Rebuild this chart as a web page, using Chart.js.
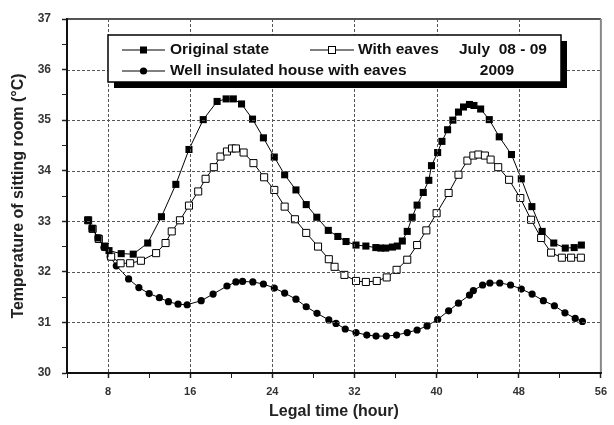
<!DOCTYPE html>
<html lang="en">
<head>
<meta charset="UTF-8" />
<title>Temperature of sitting room</title>
<script src="https://cdn.jsdelivr.net/npm/chart.js@4.4.0/dist/chart.umd.min.js"></script>
<style>
  body { margin: 0; background: #fff; }
</style>
</head>
<body>
<canvas id="myChart" width="614" height="425"></canvas>
<script>
// values (hour of legal time, temperature in degC)
const hoursOriginal = [6.06, 6.45, 7.03, 7.67, 8.09, 9.28, 10.45, 11.86, 13.2, 14.6, 15.88, 17.27, 18.62, 19.5, 20.2, 21.0, 22.07, 23.13, 24.19, 25.2, 26.3, 27.3, 28.33, 29.45, 30.38, 31.18, 32.15, 33.11, 34.08, 34.56, 35.04, 35.69, 36.17, 36.66, 37.14, 37.62, 38.1, 38.7, 39.24, 39.5, 40.1, 40.52, 41.07, 41.58, 42.13, 42.62, 43.2, 43.64, 44.29, 45.13, 46.1, 47.29, 48.25, 49.28, 50.28, 51.41, 52.53, 53.4, 54.1];
const tempOriginal = [33.02, 32.86, 32.67, 32.5, 32.42, 32.36, 32.35, 32.57, 33.09, 33.73, 34.42, 35.01, 35.37, 35.42, 35.42, 35.32, 35.02, 34.65, 34.27, 33.92, 33.62, 33.33, 33.08, 32.82, 32.70, 32.60, 32.53, 32.51, 32.48, 32.47, 32.47, 32.49, 32.51, 32.61, 32.80, 33.08, 33.32, 33.57, 33.81, 34.1, 34.36, 34.58, 34.81, 35.0, 35.16, 35.26, 35.31, 35.29, 35.22, 35.01, 34.67, 34.32, 33.84, 33.29, 32.80, 32.57, 32.47, 32.48, 32.53];

const hoursEaves = [6.06, 6.5, 7.1, 7.7, 8.3, 9.22, 10.15, 11.2, 12.68, 13.6, 14.2, 15.0, 15.88, 16.78, 17.5, 18.3, 18.95, 19.58, 20.07, 20.45, 21.2, 22.16, 23.2, 24.19, 25.2, 26.2, 27.3, 28.45, 29.5, 30.06, 31.02, 32.15, 33.11, 34.17, 35.14, 36.1, 37.14, 38.1, 39.0, 40.0, 41.17, 42.13, 43.0, 43.58, 44.07, 44.7, 45.26, 46.0, 47.06, 48.15, 49.2, 50.18, 51.15, 52.2, 53.1, 54.05];
const tempEaves = [33.02, 32.85, 32.65, 32.5, 32.3, 32.17, 32.17, 32.22, 32.37, 32.57, 32.8, 33.02, 33.31, 33.59, 33.84, 34.07, 34.28, 34.38, 34.44, 34.44, 34.36, 34.15, 33.87, 33.62, 33.29, 33.04, 32.77, 32.5, 32.25, 32.1, 31.94, 31.82, 31.80, 31.82, 31.89, 32.04, 32.24, 32.53, 32.82, 33.16, 33.56, 33.92, 34.2, 34.3, 34.32, 34.3, 34.22, 34.07, 33.82, 33.46, 33.03, 32.67, 32.38, 32.28, 32.28, 32.28];

const hoursInsulated = [6.06, 6.45, 7.03, 7.6, 8.2, 8.8, 10.0, 11.0, 12.0, 13.0, 13.88, 14.82, 15.7, 17.07, 18.23, 19.58, 20.45, 21.1, 22.1, 23.13, 24.19, 25.2, 26.3, 27.3, 28.35, 29.5, 30.2, 31.1, 32.15, 33.2, 34.1, 35.1, 36.1, 37.14, 38.1, 39.07, 40.1, 41.17, 42.13, 43.2, 43.58, 44.48, 45.19, 46.15, 47.2, 48.25, 49.3, 50.4, 51.47, 52.5, 53.5, 54.2];
const tempInsulated = [33.02, 32.86, 32.67, 32.48, 32.3, 32.12, 31.86, 31.69, 31.57, 31.49, 31.41, 31.36, 31.35, 31.43, 31.56, 31.72, 31.80, 31.81, 31.80, 31.76, 31.68, 31.58, 31.46, 31.31, 31.18, 31.05, 30.98, 30.87, 30.80, 30.75, 30.73, 30.73, 30.75, 30.80, 30.85, 30.93, 31.06, 31.23, 31.38, 31.54, 31.63, 31.74, 31.78, 31.78, 31.74, 31.66, 31.56, 31.43, 31.33, 31.19, 31.08, 31.02];

const seriesNames = ['Original state', 'With eaves', 'Well insulated house with eaves'];
const periodText = ['July  08 - 09', '2009'];
const xTickLabels = [8, 16, 24, 32, 40, 48, 56];
const yTickLabels = [30, 31, 32, 33, 34, 35, 36, 37];

function toPoints(xs, ys) {
	return xs.map((x, i) => ({ x: x, y: ys[i] }));
}

const fontFamily = '"Liberation Sans", Arial, sans-serif';

// dotted grid at the labelled values + frame, drawn after the series
const framePlugin = {
	id: 'frame',
	afterDatasetsDraw(chart) {
		const { ctx, chartArea: a, scales } = chart;
		ctx.save();
		ctx.lineWidth = 1;
		ctx.strokeStyle = '#555';
		ctx.setLineDash([3, 2]);
		for (const v of xTickLabels) {
			if (v <= 4 || v >= 56) continue;
			const px = Math.round(scales.x.getPixelForValue(v)) + 0.5;
			ctx.beginPath();
			ctx.moveTo(px, a.top);
			ctx.lineTo(px, a.bottom);
			ctx.stroke();
		}
		for (const v of yTickLabels) {
			if (v <= 30 || v >= 37) continue;
			const py = Math.round(scales.y.getPixelForValue(v)) + 0.5;
			ctx.beginPath();
			ctx.moveTo(a.left, py);
			ctx.lineTo(a.right, py);
			ctx.stroke();
		}
		ctx.setLineDash([]);
		ctx.lineWidth = 2;
		ctx.strokeStyle = '#555';
		ctx.beginPath();
		ctx.moveTo(a.left, a.top);
		ctx.lineTo(a.right, a.top);
		ctx.stroke();
		ctx.strokeStyle = '#888';
		ctx.beginPath();
		ctx.moveTo(a.right, a.top);
		ctx.lineTo(a.right, a.bottom);
		ctx.stroke();
		ctx.strokeStyle = '#111';
		ctx.beginPath();
		ctx.moveTo(a.left, a.top - 1);
		ctx.lineTo(a.left, a.bottom);
		ctx.lineTo(a.right + 1, a.bottom);
		ctx.stroke();
		ctx.restore();
	}
};

// boxed legend with shadow, as in the figure
const legendBox = {
	id: 'legendBox',
	afterDraw(chart) {
		const ctx = chart.ctx;
		const bx = 108, by = 35, bw = 453, bh = 47;
		ctx.save();
		ctx.fillStyle = '#000';
		ctx.fillRect(bx + 6, by + 6, bw, bh);
		ctx.fillStyle = '#fff';
		ctx.fillRect(bx, by, bw, bh);
		ctx.lineWidth = 1.5;
		ctx.strokeStyle = '#000';
		ctx.strokeRect(bx, by, bw, bh);

		function entry(x1, x2, y, marker) {
			ctx.lineWidth = 1;
			ctx.strokeStyle = '#000';
			ctx.beginPath();
			ctx.moveTo(x1, y);
			ctx.lineTo(x2, y);
			ctx.stroke();
			const mx = (x1 + x2) / 2;
			if (marker === 'circle') {
				ctx.fillStyle = '#000';
				ctx.beginPath();
				ctx.arc(mx, y, 3.6, 0, Math.PI * 2);
				ctx.fill();
			} else if (marker === 'filled') {
				ctx.fillStyle = '#000';
				ctx.fillRect(mx - 3.5, y - 3.5, 7, 7);
			} else {
				ctx.fillStyle = '#fff';
				ctx.fillRect(mx - 3.5, y - 3.5, 7, 7);
				ctx.strokeRect(mx - 3.5, y - 3.5, 7, 7);
			}
		}
		entry(122, 165, 50, 'filled');
		entry(310, 354, 50, 'open');
		entry(122, 165, 71, 'circle');

		ctx.fillStyle = '#111';
		ctx.font = 'bold 15.5px ' + fontFamily;
		ctx.textBaseline = 'middle';
		ctx.textAlign = 'left';
		ctx.fillText(seriesNames[0], 170, 50);
		ctx.fillText(seriesNames[1], 358, 50);
		ctx.fillText(seriesNames[2], 170, 71);
		ctx.fillText(periodText[0], 459, 50);
		ctx.textAlign = 'center';
		ctx.fillText(periodText[1], 497, 71);
		ctx.restore();
	}
};

const ctx = document.getElementById('myChart').getContext('2d');
const myChart = new Chart(ctx, {
	type: 'line',
	data: {
		datasets: [
			{
				label: seriesNames[0],
				data: toPoints(hoursOriginal, tempOriginal),
				borderColor: '#000',
				borderWidth: 1,
				pointStyle: 'rect',
				pointRadius: 5,
				pointBackgroundColor: '#000',
				pointBorderColor: '#000',
				pointBorderWidth: 0,
				tension: 0
			},
			{
				label: seriesNames[1],
				data: toPoints(hoursEaves, tempEaves),
				borderColor: '#000',
				borderWidth: 1,
				pointStyle: 'rect',
				pointRadius: 5,
				pointBackgroundColor: '#fff',
				pointBorderColor: '#000',
				pointBorderWidth: 1,
				tension: 0
			},
			{
				label: seriesNames[2],
				data: toPoints(hoursInsulated, tempInsulated),
				borderColor: '#000',
				borderWidth: 1,
				pointStyle: 'circle',
				pointRadius: 3.6,
				pointBackgroundColor: '#000',
				pointBorderColor: '#000',
				pointBorderWidth: 0,
				tension: 0
			}
		]
	},
	options: {
		responsive: false,
		animation: false,
		layout: { padding: { left: 0, right: 8, top: 19, bottom: 0 } },
		plugins: {
			legend: { display: false },
			tooltip: { enabled: false }
		},
		scales: {
			x: {
				type: 'linear',
				min: 4,
				max: 56,
				afterBuildTicks(scale) {
					const t = [];
					for (let v = 4; v <= 56; v += 4) t.push({ value: v });
					scale.ticks = t;
				},
				afterFit(scale) { scale.height = 52; },
				ticks: {
					callback: v => (xTickLabels.includes(v) ? String(v) : ''),
					color: '#333',
					font: { family: fontFamily, size: 11, weight: 'bold' },
					padding: 7,
					maxRotation: 0,
					autoSkip: false
				},
				grid: {
					drawOnChartArea: false,
					tickColor: '#222',
					tickLength: 5,
					tickWidth: c => (c.tick && c.tick.value % 8 === 0 ? 1.5 : 1)
				},
				border: { display: true, color: '#111', width: 2 },
				title: {
					display: true,
					text: 'Legal time (hour)',
					color: '#222',
					font: { family: fontFamily, size: 16, weight: 'bold' },
					padding: { top: 0, bottom: 4 }
				}
			},
			y: {
				min: 30,
				max: 37,
				afterBuildTicks(scale) {
					const t = [];
					for (let v = 30; v <= 37; v += 0.5) t.push({ value: v });
					scale.ticks = t;
				},
				afterFit(scale) { scale.width = 67; },
				ticks: {
					callback: v => (yTickLabels.includes(v) ? String(v) : ''),
					color: '#333',
					font: { family: fontFamily, size: 12, weight: 'bold' },
					padding: 11,
					autoSkip: false
				},
				grid: {
					drawOnChartArea: false,
					tickColor: '#222',
					tickLength: 5,
					tickWidth: c => (c.tick && Number.isInteger(c.tick.value) ? 1.5 : 1)
				},
				border: { display: true, color: '#111', width: 2 },
				title: {
					display: true,
					text: 'Temperature of sitting room (\u00b0C)',
					color: '#222',
					font: { family: fontFamily, size: 16, weight: 'bold' },
					padding: { top: 9, bottom: 0 }
				}
			}
		}
	},
	plugins: [framePlugin, legendBox]
});
</script>
</body>
</html>
